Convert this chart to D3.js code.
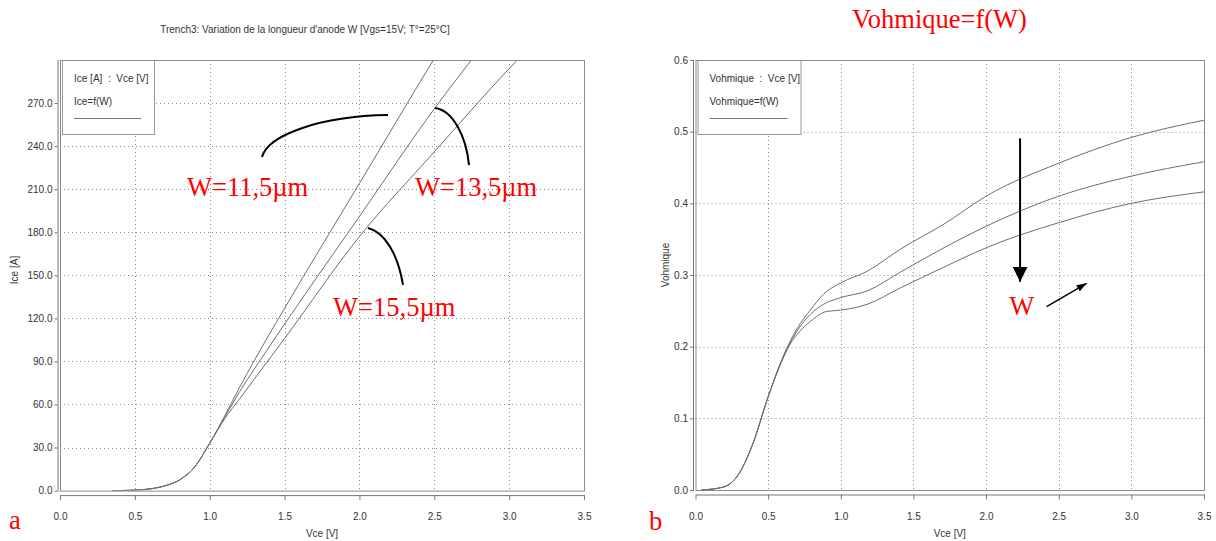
<!DOCTYPE html>
<html><head><meta charset="utf-8">
<script src="https://cdn.jsdelivr.net/npm/d3@7"></script>
<style>
html,body{margin:0;padding:0;background:#fff;}
svg{display:block;}
.tick text{font-family:"Liberation Sans",Arial,sans-serif;font-size:10px;fill:#333;}
</style></head><body>
<svg id="c" width="1216" height="541"></svg>
<script>
// ---------- DATA ----------
const xTicks = [0, 0.5, 1.0, 1.5, 2.0, 2.5, 3.0, 3.5];
const iceTicks = [0, 30, 60, 90, 120, 150, 180, 210, 240, 270];
const vohmTicks = [0, 0.1, 0.2, 0.3, 0.4, 0.5, 0.6];

// Panel a: Ice [A] vs Vce [V]
const iceW115_vce = [0.35, 0.5, 0.6, 0.7, 0.8, 0.9, 1.0, 1.1, 1.2, 1.3, 1.5, 2.0, 2.5, 2.6];
const iceW115     = [0, 0.3, 1.2, 3.3, 7.5, 16.5, 33, 52, 72, 91, 127, 214, 301, 318];
const iceW135_vce = [0.35, 0.5, 0.6, 0.7, 0.8, 0.9, 1.0, 1.1, 1.2, 1.3, 1.5, 2.0, 2.5, 2.8];
const iceW135     = [0, 0.3, 1.2, 3.3, 7.5, 16.5, 33, 51, 69, 85, 116, 191, 266, 307];
const iceW155_vce = [0.35, 0.5, 0.6, 0.7, 0.8, 0.9, 1.0, 1.1, 1.2, 1.3, 1.5, 2.0, 2.5, 3.0, 3.1];
const iceW155     = [0, 0.3, 1.2, 3.3, 7.5, 16.5, 33, 50, 64, 78, 106, 177, 236, 294, 305];

// Panel b: Vohmique vs Vce [V]
const vohmW115_vce = [0.04, 0.19, 0.30, 0.39, 0.50, 0.58, 0.65, 0.72, 0.79, 0.88, 1.0, 1.18, 1.41, 1.71, 2.0, 2.5, 3.0, 3.5];
const vohmW115     = [0, 0.004, 0.023, 0.062, 0.130, 0.175, 0.207, 0.232, 0.251, 0.273, 0.289, 0.305, 0.336, 0.371, 0.410, 0.456, 0.492, 0.516];
const vohmW135_vce = [0.04, 0.19, 0.30, 0.39, 0.50, 0.58, 0.65, 0.72, 0.79, 0.88, 1.0, 1.18, 1.41, 1.71, 2.0, 2.5, 3.0, 3.5];
const vohmW135     = [0, 0.004, 0.023, 0.062, 0.130, 0.174, 0.205, 0.228, 0.245, 0.259, 0.2685, 0.2776, 0.304, 0.338, 0.368, 0.410, 0.438, 0.458];
const vohmW155_vce = [0.04, 0.19, 0.30, 0.39, 0.50, 0.58, 0.65, 0.72, 0.79, 0.90, 1.0, 1.1, 1.18, 1.41, 1.71, 2.0, 2.5, 3.0, 3.5];
const vohmW155     = [0, 0.004, 0.023, 0.062, 0.130, 0.173, 0.203, 0.222, 0.235, 0.249, 0.251, 0.2545, 0.259, 0.282, 0.311, 0.338, 0.373, 0.400, 0.416];

const zip = (xs, ys) => xs.map((x, i) => [x, ys[i]]);

// ---------- DRAW ----------
const svg = d3.select("#c");
svg.append("rect").attr("width", 1216).attr("height", 541).attr("fill", "#fff");
const SANS = '"Liberation Sans",Arial,sans-serif';
const SERIF = '"Times New Roman","Liberation Serif",serif';
const RED_FS = 26.5;

function panel(cfg) {
  const g = svg.append("g");
  const x = d3.scaleLinear().domain([0, 3.5]).range([cfg.left, cfg.right]);
  const y = d3.scaleLinear().domain(cfg.yDomain).range([cfg.bottom, cfg.top]);

  // dotted grid
  g.append("g").selectAll("line").data(xTicks.filter(t => t > 0 && t < 3.5)).join("line")
    .attr("x1", d => Math.round(x(d)) + 0.5).attr("x2", d => Math.round(x(d)) + 0.5)
    .attr("y1", cfg.top).attr("y2", cfg.bottom)
    .attr("stroke", "#8a8a8a").attr("stroke-dasharray", "1,3");
  g.append("g").selectAll("line").data(cfg.yTicks.filter(t => t > cfg.yDomain[0])).join("line")
    .attr("y1", d => Math.round(y(d)) + 0.5).attr("y2", d => Math.round(y(d)) + 0.5)
    .attr("x1", cfg.left).attr("x2", cfg.right)
    .attr("stroke", "#8a8a8a").attr("stroke-dasharray", "1,3");

  // curves
  const clipId = "clip" + cfg.id;
  svg.append("clipPath").attr("id", clipId).append("rect")
    .attr("x", cfg.left).attr("y", cfg.top).attr("width", cfg.right - cfg.left).attr("height", cfg.bottom - cfg.top);
  const line = d3.line().x(d => x(d[0])).y(d => y(d[1])).curve(d3.curveMonotoneX);
  g.append("g").attr("clip-path", `url(#${clipId})`).selectAll("path").data(cfg.series).join("path")
    .attr("d", line).attr("fill", "none").attr("stroke", "#6e6e6e").attr("stroke-width", 1);

  // legend box
  g.append("rect").attr("x", cfg.left + 2.5).attr("y", cfg.top + 0.5)
    .attr("width", cfg.legendW).attr("height", 74)
    .attr("fill", "#fff").attr("stroke", "#999");
  g.append("text").attr("x", cfg.left + 14).attr("y", 82).text(cfg.legend1)
    .attr("font-family", SANS).attr("font-size", 10).attr("fill", "#333").style("white-space", "pre");
  g.append("text").attr("x", cfg.left + 14).attr("y", 105).text(cfg.legend2)
    .attr("font-family", SANS).attr("font-size", 10).attr("fill", "#333");
  g.append("line").attr("x1", cfg.left + 14).attr("x2", cfg.left + 14 + cfg.legendLine)
    .attr("y1", 118.5).attr("y2", 118.5).attr("stroke", "#777");

  // frame
  g.append("rect").attr("x", cfg.left + 0.5).attr("y", cfg.top + 0.5)
    .attr("width", cfg.right - cfg.left).attr("height", cfg.bottom - cfg.top)
    .attr("fill", "none").attr("stroke", "#8c8c8c");

  // axes
  const ya = g.append("g").attr("transform", `translate(${cfg.left - 2.5},0)`)
    .call(d3.axisLeft(y).tickValues(cfg.yTicks).tickFormat(d3.format(cfg.yFmt)).tickSize(3).tickSizeOuter(0).tickPadding(2));
  ya.select(".domain").attr("stroke", "#777").attr("d", `M0.5,${cfg.top}V${cfg.bottom + 1}`);
  ya.selectAll(".tick line").attr("stroke", "#777");
  const xa = g.append("g").attr("transform", `translate(0,${cfg.bottom + 4.5})`)
    .call(d3.axisBottom(x).tickValues(xTicks).tickFormat(d3.format(".1f")).tickSize(5).tickSizeOuter(0).tickPadding(13));
  xa.select(".domain").attr("stroke", "#777");
  xa.selectAll(".tick line").attr("stroke", "#777");

  // axis titles
  g.append("text").attr("x", (cfg.left + cfg.right) / 2).attr("y", 537).attr("text-anchor", "middle")
    .attr("font-family", SANS).attr("font-size", 10).attr("fill", "#333").text("Vce [V]");
  g.append("text").attr("transform", `translate(${cfg.yTitleX},${cfg.yTitleY}) rotate(-90)`)
    .attr("text-anchor", "middle").attr("font-family", SANS).attr("font-size", 10).attr("fill", "#333").text(cfg.yTitle);

  return { g, x, y };
}

// Panel a
const A = panel({
  id: "a", left: 60, right: 584, top: 60, bottom: 490.6, yDomain: [0, 300], yTicks: iceTicks, yFmt: ".1f",
  series: [zip(iceW115_vce, iceW115), zip(iceW135_vce, iceW135), zip(iceW155_vce, iceW155)],
  legend1: "Ice [A]  :  Vce [V]", legend2: "Ice=f(W)", legendW: 92, legendLine: 67,
  yTitle: "Ice [A]", yTitleX: 18, yTitleY: 270
});
svg.append("text").attr("x", 305).attr("y", 33).attr("text-anchor", "middle")
  .attr("font-family", SANS).attr("font-size", 10).attr("fill", "#333")
  .text("Trench3: Variation de la longueur d'anode W [Vgs=15V; T°=25°C]");

// annotations panel a (data coordinates)
const arcsA = [
  [[1.349, 232.4], [1.389, 247.7], [1.737, 260.9], [2.191, 261.6]],
  [[2.505, 266.5], [2.619, 265.1], [2.712, 247.7], [2.732, 226.8]],
  [[2.057, 183.0], [2.171, 180.2], [2.258, 164.2], [2.291, 143.3]]
];
A.g.selectAll("path.arc").data(arcsA).join("path").attr("class", "arc")
  .attr("d", p => { const q = p.map(d => [A.x(d[0]), A.y(d[1])]);
    return `M${q[0]}C${q[1]} ${q[2]} ${q[3]}`; })
  .attr("fill", "none").attr("stroke", "#000").attr("stroke-width", 2);
const labelsA = [
  { v: 0.848, i: 205.3, t: "W=11,5µm" },
  { v: 2.371, i: 205.3, t: "W=13,5µm" },
  { v: 1.824, i: 121.6, t: "W=15,5µm" }
];
A.g.selectAll("text.lab").data(labelsA).join("text").attr("class", "lab")
  .attr("x", d => A.x(d.v)).attr("y", d => A.y(d.i)).text(d => d.t)
  .attr("font-family", SERIF).attr("font-size", RED_FS).attr("fill", "#ff0000");
svg.append("text").attr("x", 9).attr("y", 529).text("a")
  .attr("font-family", SERIF).attr("font-size", RED_FS).attr("fill", "#ff0000");

// Panel b
const B = panel({
  id: "b", left: 695.5, right: 1204, top: 60, bottom: 490, yDomain: [0, 0.6], yTicks: vohmTicks, yFmt: ".1f",
  series: [zip(vohmW115_vce, vohmW115), zip(vohmW135_vce, vohmW135), zip(vohmW155_vce, vohmW155)],
  legend1: "Vohmique  :  Vce [V]", legend2: "Vohmique=f(W)", legendW: 103, legendLine: 78,
  yTitle: "Vohmique", yTitleX: 669, yTitleY: 265
});
svg.append("text").attr("x", 939.5).attr("y", 28).attr("text-anchor", "middle")
  .attr("font-family", SERIF).attr("font-size", RED_FS).attr("fill", "#ff0000").text("Vohmique=f(W)");

svg.append("defs").html(
  '<marker id="ah" viewBox="0 0 10 10" refX="10" refY="5" markerWidth="15" markerHeight="15" markerUnits="userSpaceOnUse" orient="auto"><path d="M0,0L10,5L0,10z" fill="#000"/></marker>' +
  '<marker id="ah2" viewBox="0 0 10 10" refX="10" refY="5" markerWidth="10" markerHeight="10" markerUnits="userSpaceOnUse" orient="auto"><path d="M0,1.5L10,5L0,8.5z" fill="#000"/></marker>');
const arrowsB = [
  { a: [2.234, 0.4907], b: [2.234, 0.2906], m: "ah", w: 2 },
  { a: [2.417, 0.2558], b: [2.692, 0.2884], m: "ah2", w: 1.5 }
];
B.g.selectAll("line.arr").data(arrowsB).join("line").attr("class", "arr")
  .attr("x1", d => B.x(d.a[0])).attr("y1", d => B.y(d.a[1]))
  .attr("x2", d => B.x(d.b[0])).attr("y2", d => B.y(d.b[1]))
  .attr("stroke", "#000").attr("stroke-width", d => d.w).attr("marker-end", d => `url(#${d.m})`);
B.g.append("text").attr("x", B.x(2.245)).attr("y", B.y(0.2442)).attr("text-anchor", "middle")
  .attr("font-family", SERIF).attr("font-size", RED_FS).attr("fill", "#ff0000").text("W");
svg.append("text").attr("x", 649).attr("y", 530).text("b")
  .attr("font-family", SERIF).attr("font-size", RED_FS).attr("fill", "#ff0000");
</script>
</body></html>
